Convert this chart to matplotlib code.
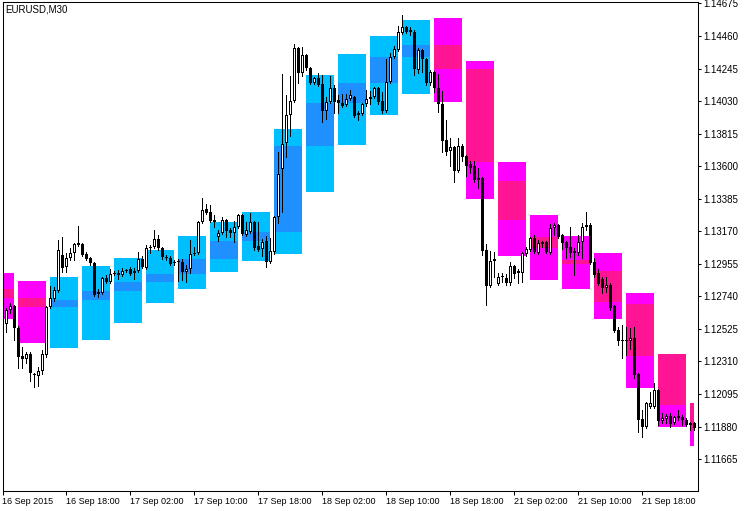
import matplotlib
matplotlib.use("Agg")
import matplotlib.pyplot as plt
import numpy as np

plt.rcParams['font.family'] = ['Liberation Sans', 'DejaVu Sans']

# ---- M30 candles, first bar = 16 Sep 2015 10:00 ----
opens = [1.12742,1.12558,1.12650,1.12676,1.12531,1.12345,1.12326,1.12359,1.12227,1.12213,
 1.12246,1.12352,1.12670,1.12723,1.12775,1.13013,1.12934,1.12993,1.13026,1.13081,
 1.13086,1.13020,1.12993,1.12960,1.12769,1.12762,1.12861,1.12835,1.12888,1.12894,
 1.12881,1.12907,1.12921,1.12894,1.12907,1.12987,1.12927,1.13059,1.13066,1.13119,
 1.13059,1.13000,1.12993,1.12960,1.12967,1.12967,1.12901,1.12921,1.13020,1.13026,
 1.13231,1.13317,1.13297,1.13244,1.13132,1.13158,1.13244,1.13178,1.13158,1.13198,
 1.13277,1.13145,1.13165,1.13231,1.13072,1.13053,1.13106,1.12967,1.13033,1.13264,
 1.13581,1.13753,1.13938,1.14030,1.14381,1.14216,1.14335,1.14249,1.14150,1.14183,
 1.14143,1.13964,1.14024,1.14117,1.14037,1.14017,1.14004,1.14044,1.14057,1.13938,
 1.13945,1.14011,1.14044,1.14057,1.14117,1.14030,1.13964,1.14156,1.14321,1.14368,
 1.14480,1.14520,1.14500,1.14487,1.14235,1.14368,1.14308,1.14150,1.14222,1.14117,
 1.14011,1.13773,1.13700,1.13727,1.13568,1.13733,1.13667,1.13614,1.13601,1.13522,
 1.13522,1.13046,1.12808,1.12974,1.12821,1.12868,1.12861,1.12828,1.12941,1.12894,
 1.12894,1.13020,1.13046,1.13125,1.13026,1.13099,1.13099,1.13026,1.13191,1.13211,
 1.13145,1.13099,1.13066,1.13040,1.13026,1.13099,1.13198,1.13211,1.12967,1.12894,
 1.12855,1.12795,1.12815,1.12676,1.12518,1.12452,1.12452,1.12445,1.12465,1.12227,
 1.11930,1.11877,1.12009,1.12009,1.12121,1.11916,1.11930,1.11949,1.11903,1.11949,
 1.11943,1.11923,1.11890,1.11903]

highs = [1.12762,1.12663,1.12696,1.12683,1.12544,1.12405,1.12372,1.12372,1.12233,1.12273,
 1.12385,1.12676,1.12808,1.12802,1.13112,1.13132,1.13026,1.13059,1.13092,1.13204,
 1.13092,1.13033,1.13000,1.12967,1.12789,1.12868,1.12881,1.12921,1.12907,1.12914,
 1.12927,1.12921,1.12934,1.12927,1.13033,1.13007,1.13079,1.13079,1.13178,1.13145,
 1.13066,1.13013,1.13007,1.12980,1.12987,1.12987,1.12947,1.13112,1.13066,1.13237,
 1.13390,1.13350,1.13344,1.13277,1.13178,1.13264,1.13251,1.13191,1.13237,1.13284,
 1.13284,1.13231,1.13291,1.13237,1.13231,1.13119,1.13138,1.13125,1.13271,1.13694,
 1.14209,1.14070,1.14196,1.14407,1.14388,1.14388,1.14341,1.14255,1.14189,1.14216,
 1.14202,1.14057,1.14196,1.14136,1.14070,1.14077,1.14077,1.14103,1.14063,1.13964,
 1.14017,1.14103,1.14096,1.14123,1.14123,1.14090,1.14308,1.14348,1.14394,1.14526,
 1.14599,1.14526,1.14520,1.14500,1.14381,1.14374,1.14315,1.14235,1.14229,1.14209,
 1.14096,1.13905,1.13786,1.13733,1.13786,1.13747,1.13674,1.13634,1.13634,1.13588,
 1.13529,1.13086,1.13040,1.13033,1.12894,1.12894,1.12888,1.12967,1.12947,1.12921,
 1.13033,1.13066,1.13132,1.13145,1.13112,1.13106,1.13106,1.13218,1.13224,1.13218,
 1.13152,1.13106,1.13198,1.13059,1.13145,1.13224,1.13297,1.13224,1.12993,1.12921,
 1.12868,1.12868,1.12828,1.12683,1.12538,1.12551,1.12538,1.12531,1.12538,1.12233,
 1.11989,1.12042,1.12108,1.12167,1.12128,1.11969,1.11963,1.11969,1.11949,1.11989,
 1.11956,1.11936,1.11910,1.11910]

lows = [1.12544,1.12505,1.12630,1.12452,1.12266,1.12266,1.12299,1.12180,1.12141,1.12147,
 1.12227,1.12339,1.12663,1.12710,1.12769,1.12901,1.12901,1.12980,1.12980,1.13072,
 1.13007,1.12980,1.12947,1.12742,1.12736,1.12756,1.12828,1.12828,1.12881,1.12855,
 1.12874,1.12901,1.12881,1.12855,1.12901,1.12927,1.12921,1.13026,1.13059,1.13046,
 1.12987,1.12980,1.12947,1.12947,1.12842,1.12848,1.12835,1.12894,1.13013,1.13020,
 1.13224,1.13284,1.13231,1.13198,1.13106,1.13152,1.13132,1.13132,1.13099,1.13191,
 1.13145,1.13138,1.13158,1.13046,1.13040,1.13007,1.12934,1.12960,1.13020,1.13224,
 1.13297,1.13661,1.13799,1.14024,1.14150,1.14196,1.14235,1.14143,1.14143,1.14130,
 1.13892,1.13912,1.14017,1.13951,1.13951,1.13991,1.13997,1.14037,1.13925,1.13905,
 1.13938,1.13997,1.14011,1.14050,1.14011,1.13951,1.13958,1.14150,1.14315,1.14361,
 1.14474,1.14480,1.14467,1.14202,1.14216,1.14222,1.14136,1.14136,1.14090,1.13958,
 1.13694,1.13674,1.13601,1.13496,1.13562,1.13634,1.13535,1.13555,1.13496,1.13456,
 1.13013,1.12683,1.12802,1.12868,1.12815,1.12835,1.12815,1.12815,1.12861,1.12828,
 1.12835,1.13007,1.13040,1.13026,1.13020,1.13066,1.13026,1.13020,1.13145,1.13125,
 1.13053,1.12993,1.13000,1.12881,1.13013,1.12993,1.13178,1.12954,1.12868,1.12815,
 1.12762,1.12769,1.12650,1.12505,1.12419,1.12332,1.12352,1.12392,1.12200,1.11844,
 1.11811,1.11870,1.12002,1.12002,1.11890,1.11903,1.11903,1.11877,1.11896,1.11923,
 1.11890,1.11883,1.11857,1.11857]

closes = [1.12571,1.12650,1.12676,1.12531,1.12339,1.12326,1.12359,1.12233,1.12220,1.12246,
 1.12359,1.12670,1.12729,1.12782,1.13046,1.12927,1.12993,1.13026,1.13086,1.13090,
 1.13013,1.12987,1.12960,1.12749,1.12756,1.12861,1.12835,1.12888,1.12891,1.12881,
 1.12907,1.12914,1.12888,1.12907,1.12987,1.12934,1.13059,1.13066,1.13119,1.13059,
 1.13000,1.12993,1.12954,1.12963,1.12964,1.12901,1.12921,1.13020,1.13026,1.13231,
 1.13311,1.13291,1.13237,1.13231,1.13158,1.13244,1.13171,1.13158,1.13198,1.13277,
 1.13152,1.13178,1.13231,1.13059,1.13046,1.13099,1.12967,1.13040,1.13264,1.13548,
 1.13747,1.13938,1.14030,1.14381,1.14216,1.14335,1.14249,1.14150,1.14183,1.14136,
 1.13964,1.14024,1.14117,1.14024,1.14017,1.13997,1.14044,1.14070,1.13931,1.13951,
 1.14011,1.14044,1.14057,1.14117,1.14024,1.13964,1.14156,1.14321,1.14374,1.14487,
 1.14520,1.14487,1.14487,1.14242,1.14368,1.14308,1.14150,1.14222,1.14117,1.14011,
 1.13766,1.13694,1.13727,1.13568,1.13733,1.13661,1.13601,1.13588,1.13509,1.13509,
 1.13040,1.12808,1.12974,1.12987,1.12868,1.12874,1.12828,1.12941,1.12888,1.12907,
 1.13026,1.13053,1.13125,1.13033,1.13092,1.13086,1.13033,1.13191,1.13211,1.13132,
 1.13092,1.13059,1.13026,1.13026,1.13099,1.13198,1.13211,1.12960,1.12881,1.12821,
 1.12795,1.12815,1.12663,1.12511,1.12445,1.12445,1.12445,1.12465,1.12220,1.11923,
 1.11877,1.12035,1.12035,1.12121,1.11916,1.11936,1.11949,1.11896,1.11943,1.11939,
 1.11923,1.11890,1.11903,1.11870]

# ---- H4 overlay candles, first one starts 16 Sep 2015 08:00 ----
h4_open  = [1.12789,1.12731,1.12670,1.12716,1.12775,1.12835,1.12888,1.12987,1.13106,1.13162,
            1.13735,1.14017,1.14150,1.14321,1.14401,1.14240,1.13502,1.13132,1.12980,1.12908,
            1.12690,1.12359,1.12035]
h4_high  = [1.12895,1.12841,1.12868,1.12941,1.12993,1.13046,1.13139,1.13231,1.13297,1.13845,
            1.14202,1.14341,1.14460,1.14566,1.14579,1.14295,1.13628,1.13277,1.13139,1.13026,
            1.12762,1.12359,1.12035]
h4_low   = [1.12591,1.12434,1.12401,1.12454,1.12566,1.12698,1.12791,1.12903,1.12974,1.13020,
            1.13429,1.13740,1.13938,1.14077,1.14024,1.13383,1.13007,1.12848,1.12789,1.12591,
            1.12134,1.11877,1.11751]
h4_close = [1.12731,1.12670,1.12716,1.12775,1.12835,1.12888,1.12987,1.13106,1.13165,1.13735,
            1.14017,1.14150,1.14321,1.14401,1.14240,1.13628,1.13244,1.13059,1.12954,1.12703,
            1.12345,1.12022,1.11850]

x_labels = ["16 Sep 2015", "16 Sep 18:00", "17 Sep 02:00", "17 Sep 10:00", "17 Sep 18:00",
            "18 Sep 02:00", "18 Sep 10:00", "18 Sep 18:00", "21 Sep 02:00", "21 Sep 10:00",
            "21 Sep 18:00"]
y_ticks = [1.11665, 1.11880, 1.12095, 1.12310, 1.12525, 1.12740, 1.12955, 1.13170,
           1.13385, 1.13600, 1.13815, 1.14030, 1.14245, 1.14460, 1.14675]

W, H = 750, 511
fig = plt.figure(figsize=(W / 100, H / 100), dpi=100)
fig.patch.set_facecolor('white')
ax_h_px = 488.7
ax = fig.add_axes([2.5 / W, 20 / H, 695.5 / W, ax_h_px / H])

YMIN, YMAX = 1.11454, 1.146828
px = (YMAX - YMIN) / ax_h_px      # price per screen pixel

o = np.array(opens); hi = np.array(highs); lo = np.array(lows); c = np.array(closes)
n = len(o)
x = np.arange(n)

# H4 boxes: each spans 8 M30 bars
ho = np.array(h4_open); hh = np.array(h4_high); hl = np.array(h4_low); hc = np.array(h4_close)
nb = len(ho)
starts = -4 + 8 * np.arange(nb)
ends = np.minimum(starts + 7, n - 1)
widths = ends - starts
bull = hc >= ho
light = np.where(bull, '#00BFFF', '#FF00FF')
dark = np.where(bull, '#1E90FF', '#FF1493')
ax.bar(starts, hh - hl, width=widths, bottom=hl, align='edge', color=light,
       linewidth=0, zorder=1, antialiased=False)
ax.bar(starts, np.abs(hc - ho), width=widths, bottom=np.minimum(ho, hc), align='edge',
       color=dark, linewidth=0, zorder=2, antialiased=False)

# candles: wick, black outer body, white inner body for rising bars
ax.vlines(x, lo, hi, color='black', linewidth=0.72, zorder=3, antialiased=False)
body_lo = np.minimum(o, c)
body_h = np.maximum(np.abs(c - o), px)
ax.bar(x, body_h, width=0.75, bottom=body_lo, color='black', linewidth=0,
       zorder=4, antialiased=False)
up = c > o
inner_h = body_h - 2 * px
m = up & (inner_h > 0)
ax.bar(x[m], inner_h[m], width=0.25, bottom=body_lo[m] + px, color='white',
       linewidth=0, zorder=5, antialiased=False)

ax.set_xlim(0.05, 173.93)
ax.set_ylim(YMIN, YMAX)

ax.yaxis.tick_right()
ax.set_yticks(y_ticks)
ax.set_yticklabels([f"{v:.5f}" for v in y_ticks])
ax.tick_params(axis='y', direction='out', length=2.5, width=0.75, pad=1,
               labelsize=7, right=True, left=False, colors='black')

ax.set_xticks(16 * np.arange(len(x_labels)))
ax.set_xticklabels(x_labels, ha='left')
ax.tick_params(axis='x', direction='out', length=3, width=0.75, pad=1.5,
               labelsize=6.5, colors='black')

for s in ax.spines.values():
    s.set_linewidth(0.75)
    s.set_color('black')

fig.text(5 / W, 1 - 4 / H, "EURUSD,M30", ha='left', va='top', fontsize=7)

fig.savefig('out.png', dpi=100, facecolor='white')
